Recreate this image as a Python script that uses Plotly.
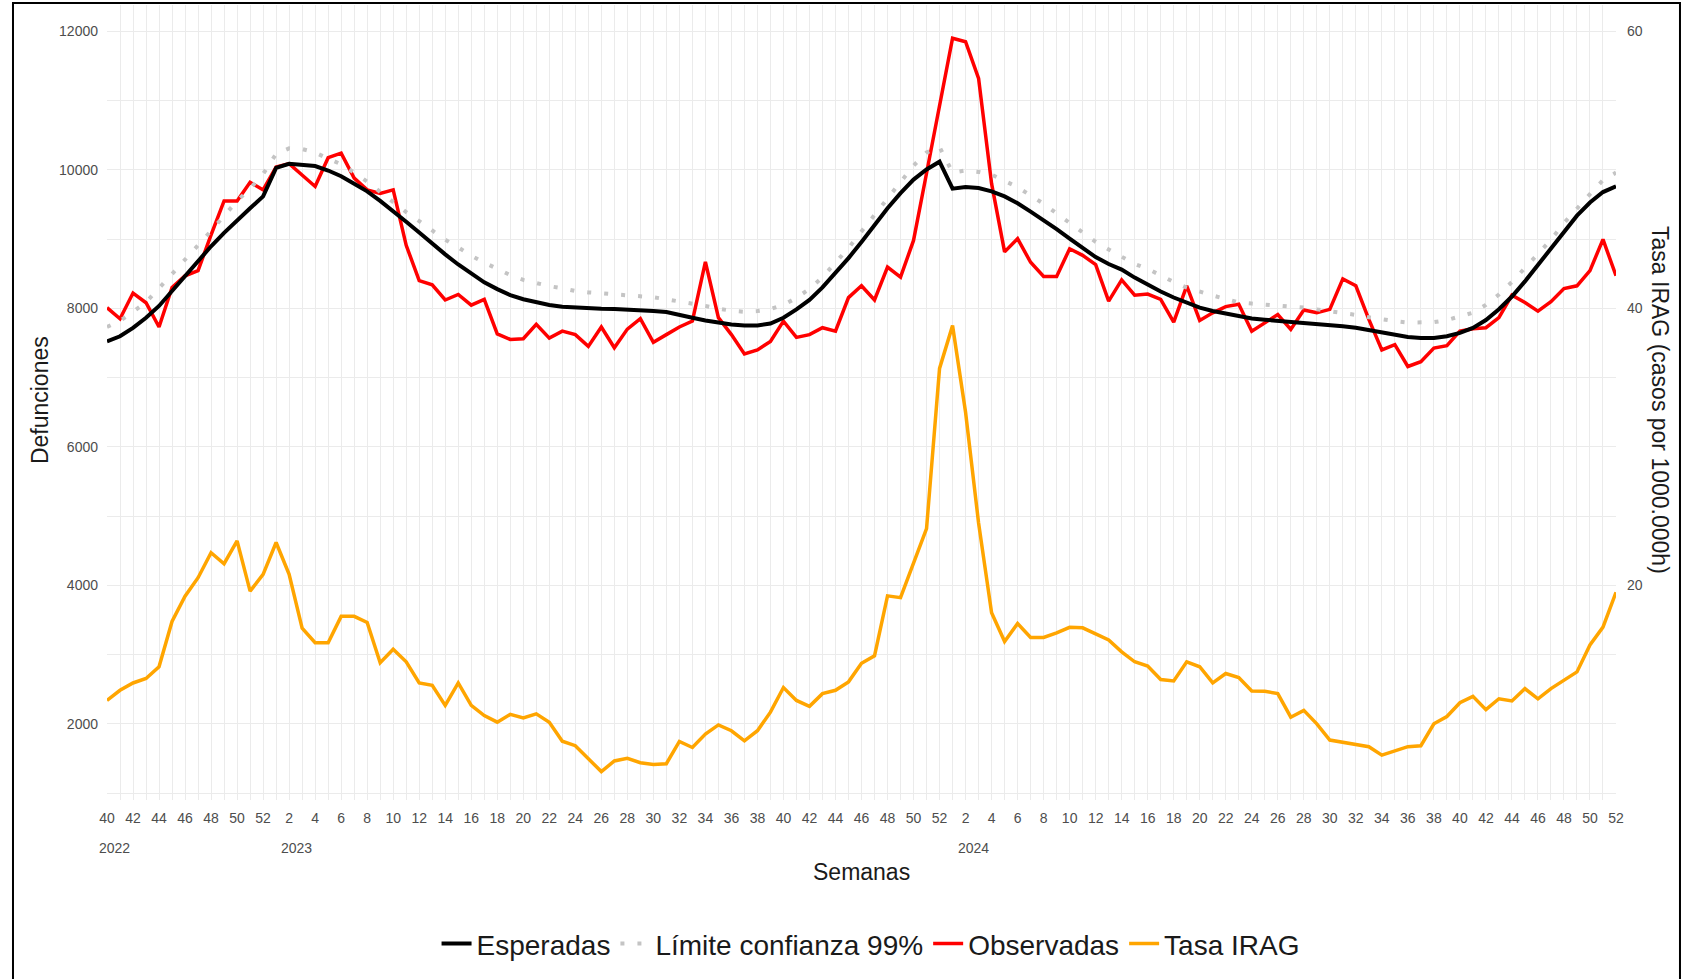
import plotly.graph_objects as go

# semanas epidemiologicas: 2022 S40 .. 2024 S52
semanas = list(range(40, 53)) + list(range(1, 53)) + list(range(1, 53))
anios = ["2022", "2023", "2024"]

observadas = [8010, 7850, 8220, 8080, 7730, 8300, 8470, 8545, 9060, 9550, 9550, 9820, 9710,
              10040, 10090, 9930, 9760, 10175, 10240, 9880, 9710, 9660, 9710, 8910, 8400, 8340,
              8120, 8200, 8045, 8130, 7630, 7550, 7560, 7770, 7570, 7670, 7620, 7450, 7730,
              7430, 7700, 7850, 7510, 7620, 7730, 7815, 8670, 7865, 7620, 7340, 7400, 7520,
              7815, 7580, 7620, 7720, 7670, 8155, 8325, 8120, 8595, 8450, 8980, 9950, 10900,
              11900, 11850, 11320, 9800, 8815, 9005, 8665, 8460, 8460, 8860, 8765, 8630, 8105,
              8410, 8190, 8205, 8130, 7800, 8325, 7825, 7935, 8025, 8060, 7670, 7790, 7910,
              7695, 7975, 7935, 7985, 8425, 8325, 7840, 7400, 7475, 7160, 7230, 7425, 7460,
              7670, 7705, 7720, 7865, 8190, 8085, 7960, 8095, 8285, 8325, 8545, 8995, 8470]

esperadas = [7523, 7596, 7718, 7864, 8034, 8253, 8462, 8677, 8896, 9090, 9275, 9445, 9616,
             10029, 10088, 10078, 10054, 9990, 9908, 9800, 9689, 9552, 9406, 9251, 9095, 8934,
             8779, 8633, 8496, 8375, 8277, 8190, 8131, 8083, 8049, 8024, 8010, 8000, 7995,
             7990, 7985, 7975, 7962, 7946, 7912, 7864, 7825, 7791, 7767, 7752, 7752, 7781,
             7864, 7985, 8122, 8302, 8511, 8725, 8959, 9202, 9445, 9664, 9859, 10005, 10117,
             9728, 9752, 9737, 9689, 9616, 9518, 9397, 9275, 9144, 9007, 8871, 8740, 8640,
             8560, 8443, 8341, 8243, 8156, 8078, 8010, 7961, 7922, 7883, 7854, 7835, 7820,
             7806, 7791, 7776, 7767, 7742, 7718, 7684, 7645, 7611, 7587, 7572, 7572, 7596,
             7645, 7718, 7830, 7986, 8170, 8389, 8628, 8861, 9105, 9338, 9528, 9679, 9762]

limite_99 = [7730, 7820, 7950, 8090, 8290, 8490, 8700, 8910, 9120, 9340, 9550, 9730, 9940,
             10230, 10310, 10300, 10250, 10160, 10080, 9960, 9830, 9680, 9530, 9390, 9260, 9120,
             8990, 8880, 8760, 8660, 8570, 8480, 8410, 8360, 8320, 8290, 8250, 8230, 8215,
             8205, 8195, 8180, 8160, 8130, 8100, 8065, 8035, 7995, 7965, 7950, 7960, 7990,
             8050, 8150, 8280, 8450, 8660, 8870, 9110, 9350, 9590, 9830, 10060, 10250, 10330,
             9960, 9990, 9970, 9930, 9840, 9750, 9630, 9510, 9370, 9230, 9100, 8960, 8850,
             8740, 8640, 8570, 8470, 8380, 8300, 8235, 8185, 8135, 8085, 8068, 8055, 8045,
             8030, 8010, 7985, 7960, 7935, 7905, 7870, 7840, 7815, 7795, 7792, 7800, 7830,
             7880, 7937, 8050, 8200, 8380, 8580, 8770, 8990, 9230, 9450, 9650, 9850, 9960]

tasa_irag = [11.69, 12.42, 12.95, 13.27, 14.12, 17.39, 19.21, 20.55, 22.36, 21.56, 23.21, 19.58,
             20.79, 23.09, 20.79, 16.91, 15.86, 15.86, 17.76, 17.76, 17.32, 14.41, 15.38, 14.48,
             12.95, 12.78, 11.33, 12.95, 11.33, 10.60, 10.12, 10.68, 10.43, 10.72, 10.12, 8.74,
             8.42, 7.45, 6.55, 7.32, 7.51, 7.19, 7.07, 7.12, 8.73, 8.29, 9.26, 9.92, 9.50, 8.77,
             9.50, 10.84, 12.62, 11.69, 11.26, 12.18, 12.42, 13.03, 14.37, 14.91, 19.24, 19.11,
             21.55, 24.10, 35.66, 38.75, 32.50, 24.50, 18.02, 15.95, 17.24, 16.24, 16.24, 16.56,
             16.97, 16.93, 16.50, 16.06, 15.20, 14.48, 14.17, 13.20, 13.10, 14.48, 14.12, 12.95,
             13.63, 13.34, 12.37, 12.35, 12.18, 10.48, 10.97, 10.00, 8.83, 8.66, 8.49, 8.35,
             7.74, 8.06, 8.35, 8.42, 10.00, 10.53, 11.52, 11.98, 11.02, 11.81, 11.65, 12.54,
             11.81, 12.54, 13.15, 13.75, 15.69, 16.98, 19.50]

x = list(range(len(semanas)))
tickvals = [i for i, s in enumerate(semanas) if s % 2 == 0]
ticktext = [str(semanas[i]) for i in tickvals]
inicio_anio = [0] + [i for i in range(1, len(semanas)) if semanas[i] < semanas[i - 1]]

FONT = "Liberation Sans, Arial, sans-serif"
GRID = "#ebebeb"
TICKC = "#4d4d4d"

fig = go.Figure()
fig.add_trace(go.Scatter(x=x, y=observadas, mode="lines", name="Observadas",
                         line=dict(color="#ff0000", width=3.5), legendrank=3))
fig.add_trace(go.Scatter(x=x, y=limite_99, mode="lines", name="Límite confianza 99%",
                         line=dict(color="#c4c4c4", width=4, dash="4px,13px"), legendrank=2))
fig.add_trace(go.Scatter(x=x, y=esperadas, mode="lines", name="Esperadas",
                         line=dict(color="#000000", width=4), legendrank=1))
fig.add_trace(go.Scatter(x=x, y=tasa_irag, mode="lines", name="Tasa IRAG", yaxis="y2",
                         line=dict(color="#ffa500", width=3.5), legendrank=4))

y_range = [900, 12380]

fig.update_layout(
    width=1682, height=979,
    margin=dict(l=107, r=66, t=5, b=179),
    plot_bgcolor="white", paper_bgcolor="white",
    font=dict(family=FONT, color="#000000"),
    showlegend=True,
    legend=dict(orientation="h", x=0.506, xanchor="center", y=-0.181, yanchor="middle",
                font=dict(size=28, color="#1a1a1a"), itemwidth=30, traceorder="normal"),
    xaxis=dict(range=[0, len(semanas) - 1], tickvals=tickvals, ticktext=ticktext,
               showgrid=True, gridcolor=GRID, gridwidth=1.2, zeroline=False, showline=False,
               tickfont=dict(size=14, color=TICKC), ticklabelstandoff=8,
               minor=dict(dtick=1, tick0=0, showgrid=True, gridcolor=GRID, gridwidth=1.2)),
    yaxis=dict(range=y_range, tickvals=[2000, 4000, 6000, 8000, 10000, 12000], tickformat="d",
               showgrid=True, gridcolor=GRID, gridwidth=1.2, zeroline=False, showline=False,
               tickfont=dict(size=14, color=TICKC), ticklabelstandoff=8,
               minor=dict(dtick=1000, tick0=0, showgrid=True, gridcolor=GRID, gridwidth=1.2)),
    yaxis2=dict(range=[v / 200 for v in y_range], overlaying="y", side="right",
                tickvals=[20, 40, 60], showgrid=False, zeroline=False, showline=False,
                tickfont=dict(size=14, color=TICKC), ticklabelstandoff=10),
)

for anio, ini, off in zip(anios, inicio_anio, [0.6, 1.6, 1.6]):
    fig.add_annotation(x=ini + off, y=-0.06, xref="x", yref="paper", text=anio,
                       showarrow=False, font=dict(size=14, color=TICKC),
                       xanchor="center", yanchor="middle")

fig.add_annotation(x=0.5003, y=-0.0906, xref="paper", yref="paper", text="Semanas",
                   showarrow=False, font=dict(size=23, color="#1a1a1a"),
                   xanchor="center", yanchor="middle")
fig.add_annotation(x=-0.0444, y=0.503, xref="paper", yref="paper", text="Defunciones",
                   textangle=-90, showarrow=False, font=dict(size=23, color="#1a1a1a"),
                   xanchor="center", yanchor="middle")
fig.add_annotation(x=1.0292, y=0.503, xref="paper", yref="paper",
                   text="Tasa IRAG (casos por 1000.000h)",
                   textangle=90, showarrow=False, font=dict(size=23, color="#1a1a1a"),
                   xanchor="center", yanchor="middle")

# marco exterior
fig.add_shape(type="rect", xref="paper", yref="paper", x0=-0.0623, x1=1.0424,
              y0=-0.35, y1=1.0025, line=dict(color="black", width=2), layer="above")

fig.write_html("out.html", config={"displayModeBar": False},
               post_script="document.body.style.margin='0';")
